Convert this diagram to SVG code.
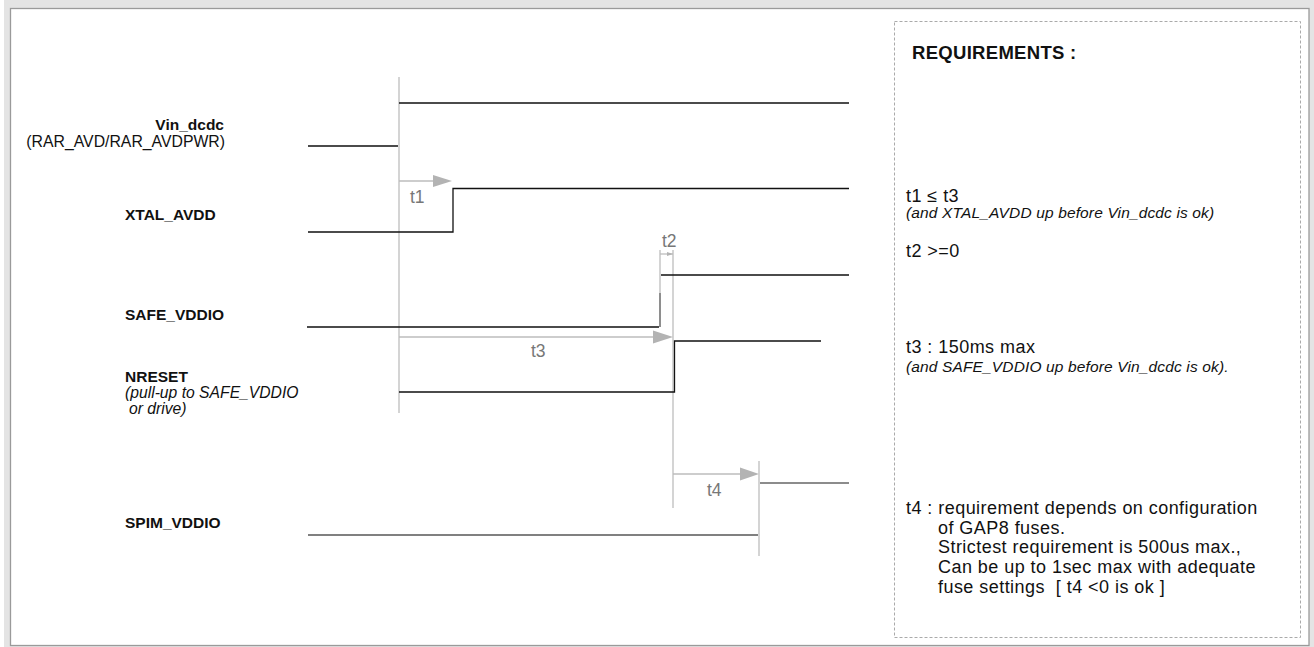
<svg xmlns="http://www.w3.org/2000/svg" width="1314" height="647" viewBox="0 0 1314 647">
<style>
text{font-family:"Liberation Sans",Arial,sans-serif;fill:#111}
.lbl{font-size:15.5px;font-weight:bold}
.sub{font-size:15.8px}
.it{font-size:15.7px;font-style:italic}
.tl{font-size:17.5px;fill:#777}
.req{font-size:18px;letter-spacing:0.45px}
.reqi{font-size:15.5px;font-style:italic;letter-spacing:0.14px}
.sig{fill:none;stroke:#111;stroke-width:1.3}
.gl{fill:none;stroke:#bdbdbd;stroke-width:1.3}
.ah{fill:#b3b3b3}
</style>
<defs>
<marker id="sm" markerWidth="6" markerHeight="4" refX="6" refY="2" orient="auto" markerUnits="userSpaceOnUse"><path d="M0,0 L6,2 L0,4 Z" fill="#b3b3b3"/></marker>
</defs>
<rect x="4" y="0" width="1310" height="647" fill="#e4e4e4"/>
<rect x="10.5" y="8.5" width="1298.5" height="637" fill="#fff" stroke="#9a9a9a" stroke-width="1.3"/>

<g id="connectors">
<line class="gl" x1="399" y1="77" x2="399" y2="413"/>
<line class="gl" x1="399" y1="181" x2="434" y2="181"/>
<polygon class="ah" points="433,175 452,181 433,187"/>
<line class="gl" x1="660" y1="250" x2="660" y2="327"/>
<line x1="660" y1="293" x2="660" y2="327" stroke="#777" stroke-width="1.5"/>
<line class="gl" x1="673" y1="250" x2="673" y2="508"/>
<line class="gl" x1="660" y1="254" x2="673" y2="254" marker-end="url(#sm)"/>
<line class="gl" x1="399" y1="337" x2="654" y2="337"/>
<polygon class="ah" points="653,330.5 673,337 653,343.5"/>
<line class="gl" x1="673" y1="474" x2="741" y2="474"/>
<polygon class="ah" points="740,467.5 759,474 740,480.5"/>
<line class="gl" x1="759" y1="461" x2="759" y2="556"/>
</g>

<g id="vin_dcdc">
<text class="lbl" x="224" y="130" text-anchor="end">Vin_dcdc</text>
<text class="sub" x="225" y="147" text-anchor="end">(RAR_AVD/RAR_AVDPWR)</text>
<path class="sig" d="M308,146 H398 M399,103 H849"/>
</g>

<g id="xtal_avdd">
<text class="lbl" x="125" y="220">XTAL_AVDD</text>
<path class="sig" d="M308,232 H453 V188.5 H849"/>
</g>

<g id="safe_vddio">
<text class="lbl" x="125" y="320">SAFE_VDDIO</text>
<path class="sig" d="M307,327 H659 M661,275 H849"/>
</g>

<g id="nreset">
<text class="lbl" x="125" y="382">NRESET</text>
<text class="it" x="125" y="398">(pull-up to SAFE_VDDIO</text>
<text class="it" x="129" y="414">or drive)</text>
<path class="sig" d="M399,392 H674.5 V341 H821"/>
</g>

<g id="spim_vddio">
<text class="lbl" x="125" y="528">SPIM_VDDIO</text>
<path d="M308,535 H758" fill="none" stroke="#808080" stroke-width="2"/>
<path d="M760,483 H849" fill="none" stroke="#666" stroke-width="1.5"/>
</g>

<g id="time-labels">
<text class="tl" x="410" y="203">t1</text>
<text class="tl" x="662" y="247">t2</text>
<text class="tl" x="531" y="357">t3</text>
<text class="tl" x="707" y="496">t4</text>
</g>

<g id="requirements">
<rect x="894.5" y="21.5" width="406" height="616" fill="none" stroke="#aaa" stroke-width="1" stroke-dasharray="3,2"/>
<text x="912" y="59" style="font-size:18.5px;font-weight:bold;letter-spacing:0.3px">REQUIREMENTS :</text>
<text class="req" x="906" y="202">t1 ≤ t3</text>
<text class="reqi" x="906" y="218">(and XTAL_AVDD up before Vin_dcdc is ok)</text>
<text class="req" x="906" y="257">t2 &gt;=0</text>
<text class="req" x="906" y="353">t3 : 150ms max</text>
<text class="reqi" x="906" y="372">(and SAFE_VDDIO up before Vin_dcdc is ok).</text>
<text class="req" x="906" y="514">t4 : requirement depends on configuration</text>
<text class="req" x="938" y="534">of GAP8 fuses.</text>
<text class="req" x="938" y="553">Strictest requirement is 500us max.,</text>
<text class="req" x="938" y="573">Can be up to 1sec max with adequate</text>
<text class="req" x="938" y="593" xml:space="preserve">fuse settings  [ t4 &lt;0 is ok ]</text>
</g>
</svg>
